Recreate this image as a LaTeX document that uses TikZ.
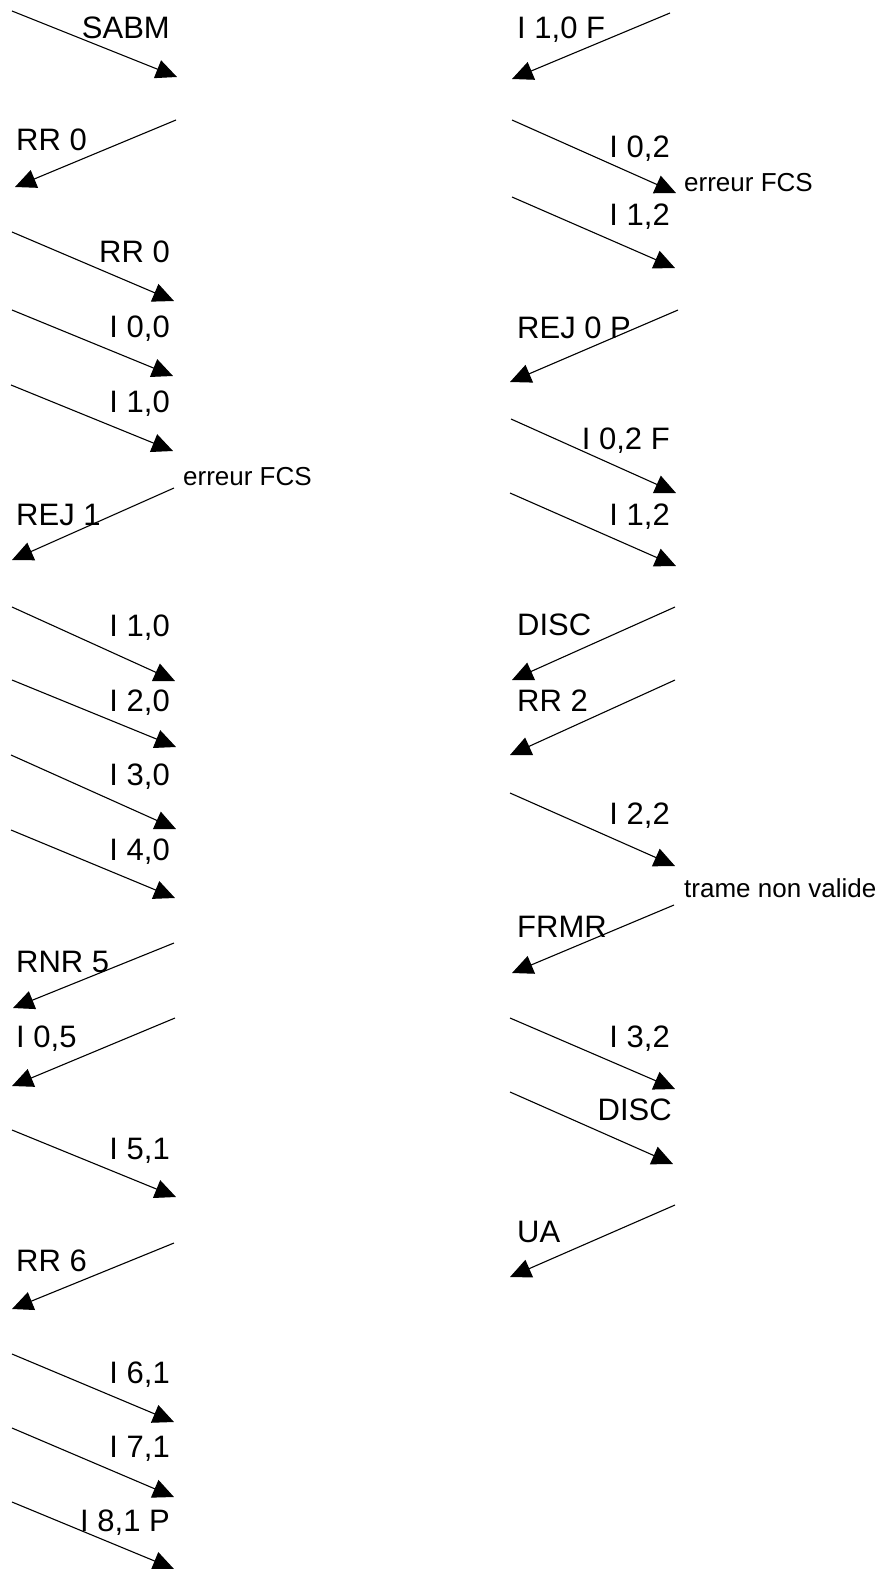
\documentclass[tikz,border=0pt]{standalone}
\usepackage{fontspec}
\setmainfont{Liberation Sans}
\usetikzlibrary{arrows.meta}
\tikzset{
  msg/.style={-{Triangle[length=21pt,width=19pt]},line width=1.1pt},
  lblR/.style={anchor=base east,inner sep=0pt,font=\fontsize{31}{37}\selectfont},
  lblL/.style={anchor=base west,inner sep=0pt,font=\fontsize{31}{37}\selectfont},
  note/.style={anchor=base west,inner sep=0pt,font=\fontsize{26}{31}\selectfont}
}

\begin{document}
\begin{tikzpicture}[x=1pt,y=-1pt]
  \useasboundingbox (0,0) rectangle (878,1569);
  % frames exchanged, first column then second column
  \foreach \n/\xa/\ya/\xb/\yb in {
      sabm/12/11/177/77, rra/176/120/15/187, rrb/12/232/174/301,
      iaa/12/310/173/376, iba/11/385/173/451, reja/174/488/12/560,
      ibb/12/607/175/681, ic/12/680/176/747, id/11/755/176/829,
      ie/11/830/175/898, rnr/174/943/13/1008, iof/175/1018/12/1086,
      ifa/12/1130/176/1197, rrc/174/1243/12/1309, iga/12/1354/174/1422,
      iha/12/1428/174/1497, iia/12/1502/174/1569,
      ibf/670/13/512/79, iab/512/120/676/193, ibc/512/197/675/268,
      rejb/678/310/510/382, iabf/511/419/676/493, ibd/510/493/676/566,
      disca/675/607/512/680, rrd/675/680/510/755, icb/510/793/675/866,
      frmr/674/905/512/973, idb/510/1018/675/1089, discb/510/1092/673/1164,
      ua/675/1205/510/1277}{
    \coordinate (\n-a) at (\xa,\ya);
    \coordinate (\n-b) at (\xb,\yb);
    \draw[msg] (\n-a) -- (\n-b);
  }

  \node[lblR] (sabm) at (170,38) {SABM};
  \node[lblL] (rra) at (16,150) {RR 0};
  \node[lblR] (rrb) at (170,262) {RR 0};
  \node[lblR] (iaa) at (170,337) {I 0,0};
  \node[lblR] (iba) at (170,412) {I 1,0};
  \node[note] (fcsa) at (183,485) {erreur FCS};
  \node[lblL] (reja) at (16,525) {REJ 1};
  \node[lblR] (ibb) at (170,636) {I 1,0};
  \node[lblR] (ic) at (170,711) {I 2,0};
  \node[lblR] (id) at (170,785) {I 3,0};
  \node[lblR] (ie) at (170,860) {I 4,0};
  \node[lblL] (rnr) at (16,972) {RNR 5};
  \node[lblL] (iof) at (16,1047) {I 0,5};
  \node[lblR] (ifa) at (170,1159) {I 5,1};
  \node[lblL] (rrc) at (16,1271) {RR 6};
  \node[lblR] (iga) at (170,1383) {I 6,1};
  \node[lblR] (iha) at (170,1457) {I 7,1};
  \node[lblR] (iia) at (170,1531) {I 8,1 P};

  \node[lblL] (ibf) at (517,38) {I 1,0 F};
  \node[lblR] (iab) at (670,157) {I 0,2};
  \node[note] (fcsb) at (684,191) {erreur FCS};
  \node[lblR] (ibc) at (670,225) {I 1,2};
  \node[lblL] (rejb) at (517,338) {REJ 0 P};
  \node[lblR] (iabf) at (670,449) {I 0,2 F};
  \node[lblR] (ibd) at (670,525) {I 1,2};
  \node[lblL] (disca) at (517,635) {DISC};
  \node[lblL] (rrd) at (517,711) {RR 2};
  \node[lblR] (icb) at (670,824) {I 2,2};
  \node[note] (trame) at (684,897) {trame non valide};
  \node[lblL] (frmr) at (517,937) {FRMR};
  \node[lblR] (idb) at (670,1047) {I 3,2};
  \node[lblR] (discb) at (672,1120) {DISC};
  \node[lblL] (ua) at (517,1242) {UA};
\end{tikzpicture}
\end{document}
